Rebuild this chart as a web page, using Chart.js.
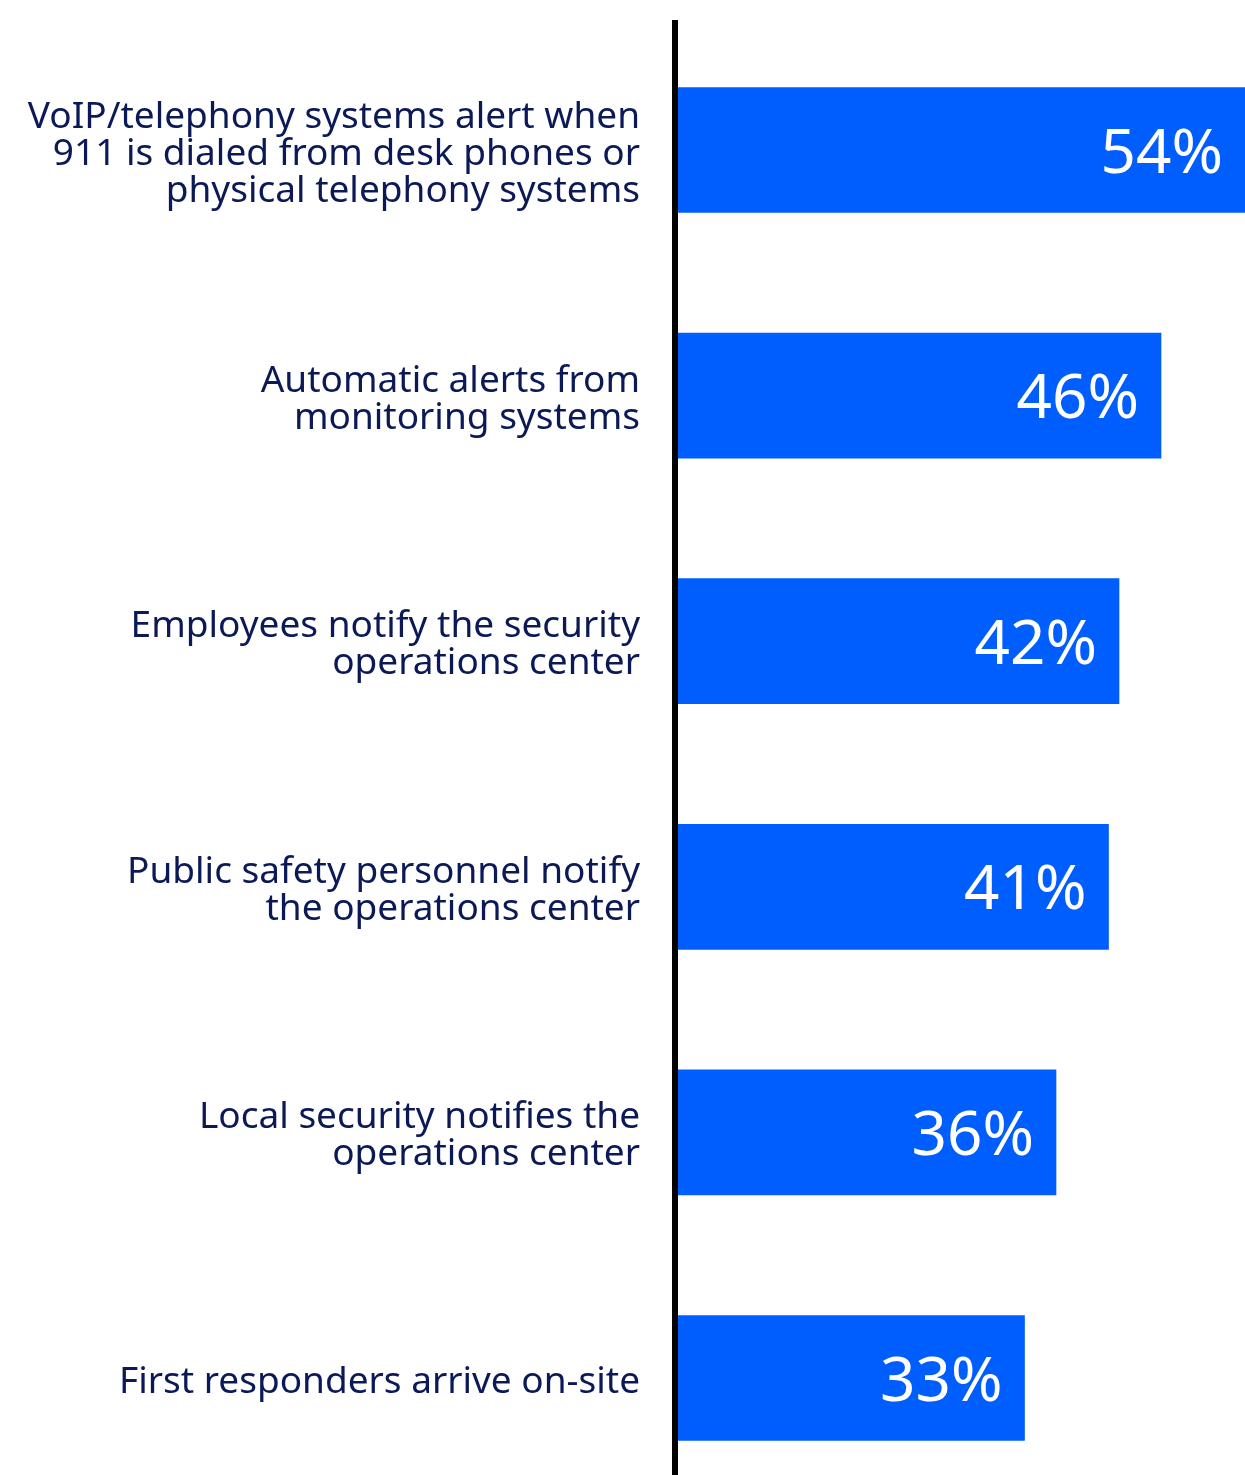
<!DOCTYPE html>
<html>
<head>
<meta charset="utf-8">
<script src="https://cdn.jsdelivr.net/npm/chart.js@4/dist/chart.umd.min.js"></script>
<style>
  html, body { margin: 0; padding: 0; background: #ffffff; }
  #wrap { width: 1245px; height: 1475px; }
</style>
</head>
<body>
<div id="wrap"><canvas id="chart" width="1245" height="1475"></canvas></div>
<script>
// How incidents come to the attention of the operations center
const categories = [
  ["VoIP/telephony systems alert when", "911 is dialed from desk phones or", "physical telephony systems"],
  ["Automatic alerts from", "monitoring systems"],
  ["Employees notify the security", "operations center"],
  ["Public safety personnel notify", "the operations center"],
  ["Local security notifies the", "operations center"],
  ["First responders arrive on-site"]
];
const shares = [54, 46, 42, 41, 36, 33];
const valueLabels = ["54%", "46%", "42%", "41%", "36%", "33%"];

const NAVY = "#0b1a57";
const BLUE = "#005eff";

// Vertical baseline running the full height beside the bars
const baselinePlugin = {
  id: "baseline",
  afterDatasetsDraw(chart) {
    const ctx = chart.ctx;
    const x = chart.chartArea.left - 3;
    ctx.save();
    ctx.strokeStyle = "#000000";
    ctx.lineWidth = 6;
    ctx.beginPath();
    ctx.moveTo(x, 20);
    ctx.lineTo(x, chart.height);
    ctx.stroke();
    ctx.restore();
  }
};

// Percentage written inside the end of each bar
const valuePlugin = {
  id: "values",
  afterDatasetsDraw(chart) {
    const ctx = chart.ctx;
    const meta = chart.getDatasetMeta(0);
    ctx.save();
    ctx.fillStyle = "#ffffff";
    ctx.font = "62px 'Noto Sans'";
    ctx.textAlign = "right";
    ctx.textBaseline = "middle";
    meta.data.forEach((bar, i) => {
      ctx.fillText(valueLabels[i], bar.x - 22, bar.y + 5);
    });
    ctx.restore();
  }
};

new Chart(document.getElementById("chart"), {
  type: "bar",
  data: {
    labels: categories,
    datasets: [{
      data: shares,
      backgroundColor: BLUE,
      borderWidth: 0,
      barThickness: 125,
      clip: false
    }]
  },
  options: {
    indexAxis: "y",
    responsive: false,
    devicePixelRatio: 1,
    animation: false,
    layout: { padding: { top: 150, bottom: 97, left: 0, right: 0 } },
    plugins: {
      legend: { display: false },
      tooltip: { enabled: false }
    },
    scales: {
      x: {
        display: false,
        min: 0,
        max: 54
      },
      y: {
        offset: false,
        grid: { display: false, drawTicks: false },
        border: { display: false },
        ticks: {
          color: NAVY,
          padding: 38,
          labelOffset: 4,
          font: { family: "'Noto Sans'", size: 37, lineHeight: 1.0 }
        },
        afterFit(scale) { scale.width = 678; }
      }
    }
  },
  plugins: [baselinePlugin, valuePlugin]
});
</script>
</body>
</html>
